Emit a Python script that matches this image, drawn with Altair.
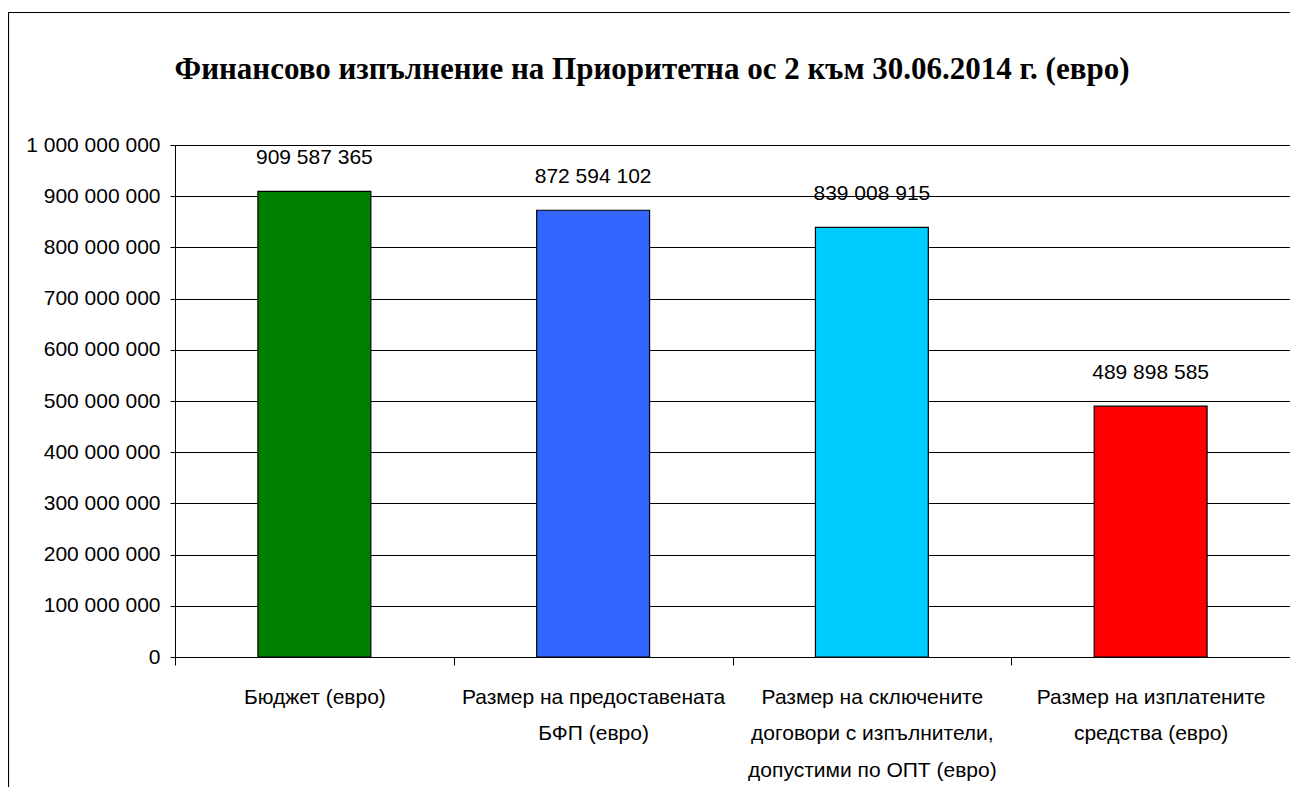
import altair as alt
import pandas as pd

title_text = "Финансово изпълнение на Приоритетна ос 2 към 30.06.2014 г. (евро)"
categories = [
    "Бюджет (евро)",
    "Размер на предоставената\nБФП (евро)",
    "Размер на сключените\nдоговори с изпълнители,\nдопустими по ОПТ (евро)",
    "Размер на изплатените\nсредства (евро)",
]
values = [909587365, 872594102, 839008915, 489898585]
colors = ["#008000", "#3366FF", "#00CCFF", "#FF0000"]
y_ticks = [0, 100000000, 200000000, 300000000, 400000000, 500000000,
           600000000, 700000000, 800000000, 900000000, 1000000000]

df = pd.DataFrame({"cat": categories, "value": values, "color": colors})
title_df = pd.DataFrame({"t": [title_text]})

SANS = "Liberation Sans, Arial, sans-serif"
W, H = 1115, 512
fmt = "replace(format(datum.value, ','), regexp(',', 'g'), ' ')"

x_enc = alt.X(
    "cat:N", sort=categories, title=None,
    scale=alt.Scale(paddingInner=0, paddingOuter=0),
    axis=alt.Axis(
        labelExpr="split(datum.label, '\\n')", labelAngle=0,
        labelFont=SANS, labelFontSize=21, labelColor="black",
        labelLineHeight=36.5, labelPadding=21, tickBand="extent",
        tickSize=8, tickColor="black", domainColor="black",
        labelLimit=400, grid=False,
    ),
)
y_enc = alt.Y(
    "value:Q", title=None,
    scale=alt.Scale(domain=[0, 1000000000], nice=False),
    axis=alt.Axis(
        values=y_ticks, labelExpr=fmt, labelFont=SANS, labelFontSize=21,
        labelColor="black", tickSize=5, tickColor="black", labelPadding=10,
        domainColor="black", gridColor="black", gridWidth=1, grid=True,
    ),
)

bars = alt.Chart(df).mark_bar(
    width={"band": 0.405}, stroke="black", strokeWidth=1.2
).encode(
    x=x_enc, y=y_enc,
    color=alt.Color("color:N", scale=None, legend=None),
)

texts = alt.Chart(df).transform_calculate(
    lbl=fmt
).mark_text(
    font=SANS, fontSize=21, color="black", dy=-33, baseline="middle"
).encode(
    x=alt.X("cat:N", sort=categories), y="value:Q", text="lbl:N"
)

title = alt.Chart(title_df).mark_text(
    font="Liberation Serif", fontSize=31, fontWeight="bold", color="black",
    align="center", baseline="middle", clip=False,
).encode(
    x=alt.value(477), y=alt.value(-75), text="t:N"
)

frame = alt.Chart(title_df).mark_rect(
    fillOpacity=0, stroke="black", strokeWidth=1.2, clip=False
).encode(
    x=alt.value(-166.5), x2=alt.value(W + 40),
    y=alt.value(-132.5), y2=alt.value(H + 200),
)

chart = alt.layer(bars, texts, title, frame).properties(
    width=W, height=H,
    autosize=alt.AutoSizeParams(type="none"),
    padding={"left": 167, "top": 137, "right": 0, "bottom": 130},
).configure_view(
    fill="#C0C0C0", stroke="#808080", strokeWidth=2
).configure(background="white")

chart.save("out.html", embed_options={"renderer": "svg", "actions": False})
